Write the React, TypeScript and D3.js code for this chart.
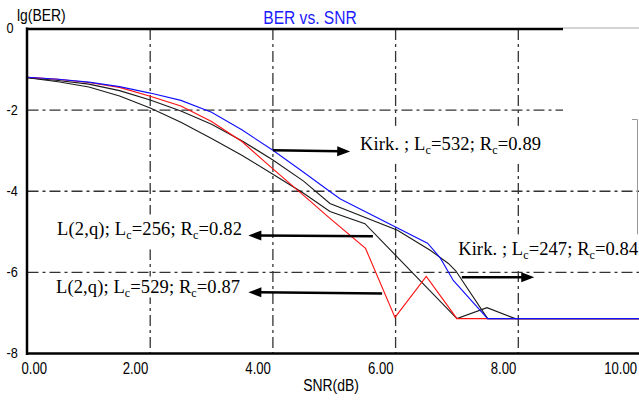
import * as d3 from 'd3';

const W = 639;
const H = 403;

const xTicks = [0, 2, 4, 6, 8, 10];
const xTickLabels = ['0.00', '2.00', '4.00', '6.00', '8.00', '10.00'];
const yTicks = [0, -2, -4, -6, -8];
const yTickLabels = ['0', '-2', '-4', '-6', '-8'];

// L(2,q); Lc=256 (lower black)
const snrL256 = [0, 0.5, 1, 1.5, 2, 2.5, 3, 3.5, 4, 4.5, 4.93, 5.5, 7, 7.49, 7.95, 10];
const berL256 = [-1.2, -1.3, -1.43, -1.65, -1.95, -2.3, -2.7, -3.12, -3.58, -4.05, -4.5, -4.8, -7.14, -6.87, -7.14, -7.14];

// Kirk. ; Lc=247 (upper black)
const snrKirk247 = [0, 0.5, 1, 1.5, 2, 2.5, 3, 3.5, 4, 4.5, 4.93, 6.03, 6.57, 6.86, 6.98, 7.5, 10];
const berKirk247 = [-1.2, -1.27, -1.36, -1.52, -1.75, -2.02, -2.35, -2.76, -3.23, -3.75, -4.3, -4.96, -5.46, -5.78, -5.96, -7.14, -7.14];

// L(2,q); Lc=529 (red)
const snrL529 = [0, 0.5, 1, 1.5, 2, 2.5, 3, 3.5, 4, 4.5, 4.93, 5.51, 5.99, 6.5, 7, 10];
const berL529 = [-1.19, -1.24, -1.32, -1.44, -1.66, -1.9, -2.28, -2.78, -3.45, -4.1, -4.67, -5.41, -7.11, -6.1, -7.14, -7.14];

// Kirk. ; Lc=532 (blue)
const snrKirk532 = [0, 0.5, 1, 1.5, 2, 2.5, 3, 3.5, 4, 4.5, 4.94, 5.1, 6.52, 6.62, 6.73, 6.94, 7.5, 10];
const berKirk532 = [-1.19, -1.24, -1.31, -1.42, -1.58, -1.76, -2.05, -2.49, -2.99, -3.53, -4.02, -4.19, -5.28, -5.45, -5.65, -6.2, -7.14, -7.14];

const series = [
  { snr: snrL256, ber: berL256, color: '#1a1a1a' },
  { snr: snrKirk247, ber: berKirk247, color: '#1a1a1a' },
  { snr: snrL529, ber: berL529, color: '#ff1010' },
  { snr: snrKirk532, ber: berKirk532, color: '#1010ff' },
];

// annotation arrows and labels, in data units
const labels = [
  { prefix: 'Kirk. ; ', lc: '532', rc: '0.89', from: [4.0, -2.99], to: [5.26, -3.02], at: [5.42, -2.98], len: 181, box: [-24, 14] },
  { prefix: 'L(2,q); ', lc: '256', rc: '0.82', from: [5.63, -5.11], to: [3.6, -5.09], at: [0.48, -5.09], len: 185, box: [-21, 14] },
  { prefix: 'L(2,q); ', lc: '529', rc: '0.87', from: [5.78, -6.52], to: [3.6, -6.49], at: [0.465, -6.52], len: 184, box: [-17, 4] },
  { prefix: 'Kirk. ; ', lc: '247', rc: '0.84', from: [7.08, -6.12], to: [8.26, -6.12], at: [7.02, -5.58], len: 180, box: [-21, 12] },
];

const sans = "'Liberation Sans', Arial, sans-serif";
const serif = "'Liberation Serif', 'Times New Roman', serif";
const gridDash = '11,4,3,4';
const narrow = 0.82; // squeeze Arial to look like Arial Narrow

// narrow sans text helper
const Narrow = ({ x, y, anchor = 'start', size, fill = '#000', baseline, children }: any) => (
  <text
    transform={`translate(${x},${y}) scale(${narrow},1)`}
    textAnchor={anchor}
    dominantBaseline={baseline}
    fontFamily={sans}
    fontSize={size}
    fill={fill}
  >
    {children}
  </text>
);

export default function App() {
  const x = d3.scaleLinear().domain([0, 10]).range([27.5, 641]);
  const y = d3.scaleLinear().domain([-8, 0]).range([353.5, 29]);

  const line = d3
    .line<[number, number]>()
    .x(d => x(d[0]))
    .y(d => y(d[1]));

  const arrowHead = (x1: number, y1: number, x2: number, y2: number) => {
    const a = Math.atan2(y2 - y1, x2 - x1);
    const L = 13;
    const w = 5;
    const bx = x2 - L * Math.cos(a);
    const by = y2 - L * Math.sin(a);
    const px = -Math.sin(a) * w;
    const py = Math.cos(a) * w;
    return `M${x2},${y2}L${bx + px},${by + py}L${bx - px},${by - py}Z`;
  };

  return (
    <svg width={W} height={H} style={{ position: 'fixed', left: 0, top: 0, background: '#fff' }}>
      <rect width={W} height={H} fill="#fff" />

      {/* grid */}
      {yTicks.slice(1, 4).map(v => (
        <line
          key={'gy' + v}
          x1={x(0)}
          x2={v === -2 ? 563 : W}
          y1={y(v)}
          y2={y(v)}
          stroke="#333"
          strokeWidth={1.3}
          strokeDasharray={gridDash}
        />
      ))}
      {xTicks.slice(1, 5).map(v => (
        <line
          key={'gx' + v}
          x1={x(v)}
          x2={x(v)}
          y1={y(0)}
          y2={y(-8)}
          stroke="#333"
          strokeWidth={1.3}
          strokeDasharray={gridDash}
        />
      ))}

      {/* white patches from the pasted labels */}
      <rect x={563} y={31} width={W - 563} height={92} fill="#fff" />
      <path d={`M632,119.5H637.5V237`} fill="none" stroke="#999" strokeWidth={1} />
      <line x1={563} x2={W} y1={28} y2={28} stroke="#aaa" strokeWidth={1} />
      {labels.map((d, i) => {
        const tx = x(d.at[0]);
        const ty = y(d.at[1]);
        return (
          <rect
            key={'box' + i}
            x={tx - 5}
            y={ty + d.box[0]}
            width={Math.min(d.len + 12, W - tx + 5)}
            height={d.box[1] - d.box[0]}
            fill="#fff"
          />
        );
      })}

      {/* curves */}
      {series.map((s, i) => (
        <path
          key={'s' + i}
          d={line(s.snr.map((v, j) => [v, s.ber[j]] as [number, number])) || ''}
          fill="none"
          stroke={s.color}
          strokeWidth={1.1}
        />
      ))}

      {/* frame */}
      <line x1={27} x2={27} y1={27.5} y2={355} stroke="#000" strokeWidth={2.5} />
      <line x1={26} x2={W} y1={y(-8)} y2={y(-8)} stroke="#000" strokeWidth={2.5} />
      <line x1={26} x2={563} y1={y(0)} y2={y(0)} stroke="#000" strokeWidth={2.5} />

      {/* arrows */}
      {labels.map((d, i) => {
        const x1 = x(d.from[0]);
        const y1 = y(d.from[1]);
        const x2 = x(d.to[0]);
        const y2 = y(d.to[1]);
        const a = Math.atan2(y2 - y1, x2 - x1);
        return (
          <g key={'ar' + i}>
            <line
              x1={x1}
              y1={y1}
              x2={x2 - 10 * Math.cos(a)}
              y2={y2 - 10 * Math.sin(a)}
              stroke="#000"
              strokeWidth={2.5}
            />
            <path d={arrowHead(x1, y1, x2, y2)} fill="#000" />
          </g>
        );
      })}

      {/* labels */}
      {labels.map((d, i) => (
        <text
          key={'lb' + i}
          x={x(d.at[0])}
          y={y(d.at[1])}
          fontFamily={serif}
          fontSize={18.5}
          fill="#000"
          textLength={d.len}
          lengthAdjust="spacing"
        >
          {d.prefix}L
          <tspan fontSize={12} dy={4}>c</tspan>
          <tspan dy={-4}>{'=' + d.lc + '; R'}</tspan>
          <tspan fontSize={12} dy={4}>c</tspan>
          <tspan dy={-4}>{'=' + d.rc}</tspan>
        </text>
      ))}

      {/* axis text */}
      {xTicks.map((v, i) => (
        <Narrow key={'xt' + v} x={Math.min(Math.max(x(v) - 2, 47), 637)} y={374} anchor="end" size={16}>
          {xTickLabels[i]}
        </Narrow>
      ))}
      {yTicks.map((v, i) => (
        <Narrow key={'yt' + v} x={6.5} y={y(v) - 1} baseline="central" size={15.5}>
          {yTickLabels[i]}
        </Narrow>
      ))}
      <Narrow x={17} y={21} size={17}>
        lg(BER)
      </Narrow>
      <Narrow x={310} y={24} anchor="middle" size={19} fill="#1a1aff">
        BER vs. SNR
      </Narrow>
      <Narrow x={331} y={391} anchor="middle" size={17}>
        SNR(dB)
      </Narrow>
    </svg>
  );
}
